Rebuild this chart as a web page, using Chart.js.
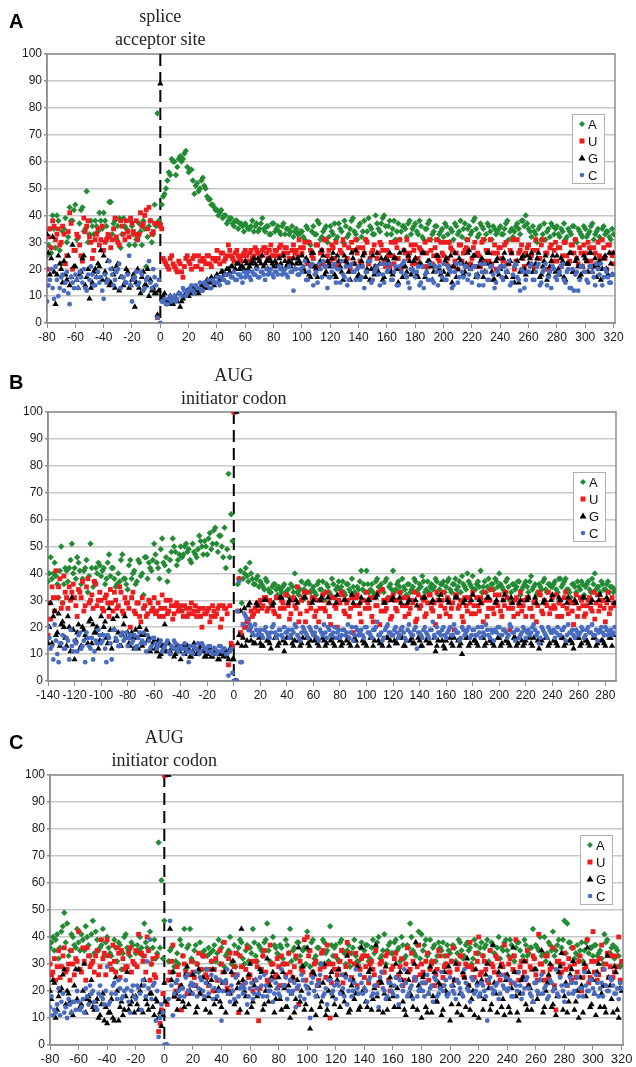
<!DOCTYPE html>
<html>
<head>
<meta charset="utf-8">
<script src="https://cdn.jsdelivr.net/npm/chart.js@4.4.1/dist/chart.umd.min.js"></script>
<style>
  html, body { margin: 0; padding: 0; background: #fff; }
  #wrap { position: relative; width: 636px; height: 1067px; }
  .panel { position: absolute; left: 0; width: 636px; }
</style>
</head>
<body>
<div id="wrap">
  <div class="panel" style="top:0;height:345px"><canvas id="chartA"></canvas></div>
  <div class="panel" style="top:345px;height:355px"><canvas id="chartB"></canvas></div>
  <div class="panel" style="top:700px;height:367px"><canvas id="chartC"></canvas></div>
</div>
<script>
// nucleotide positions; values are kept as even / odd position arrays
function positions(from, to) {
    var out = [];
    for (var p = from; p <= to; p += 2) out.push(p);
    return out;
}
var posA = positions(-80, 320), posAodd = positions(-79, 319);
var posB = positions(-140, 286), posBodd = positions(-139, 287);
var posC = positions(-80, 320), posCodd = positions(-79, 319);

var legendLabels = ['A', 'U', 'G', 'C'];

// ---- panel A : splice acceptor site ----
var aA = [
    25, 35, 40, 28, 38, 22, 35, 30, 43, 38,
    44, 32, 42, 34, 49, 33, 36, 38, 34, 38,
    41, 36, 45, 33, 38, 36, 28, 39, 35, 29,
    36, 29, 32, 34, 38, 21, 36, 30, 44, 78,
    37, 47, 50, 56, 61, 60, 58, 62, 61, 64,
    56, 57, 48, 52, 50, 54, 50, 46, 44, 43,
    42, 41, 39, 40, 38, 39, 36, 38, 37, 36,
    37, 35, 36, 34, 37, 35, 39, 34, 36, 33,
    37, 35, 34, 36, 33, 35, 34, 32, 35, 33,
    34, 31, 35, 29, 36, 33, 37, 32, 35, 30,
    36, 33, 31, 37, 34, 38, 32, 35, 39, 33,
    36, 32, 38, 34, 36, 33, 40, 35, 37, 40,
    33, 38, 35, 31, 37, 34, 36, 32, 38, 35,
    37, 33, 36, 31, 35, 38, 33, 36, 31, 34,
    32, 36, 30, 34, 37, 33, 38, 35, 31, 36,
    34, 39, 32, 37, 35, 33, 36, 31, 35, 34,
    36, 33, 37, 31, 35, 34, 37, 33, 38, 40,
    35, 32, 34, 30, 36, 33, 31, 35, 37, 33,
    36, 32, 34, 31, 35, 33, 36, 30, 34, 32,
    35, 33, 36, 31, 34, 32, 35, 33, 34, 31,
    33
];
var aAodd = [
    29, 26, 35, 40, 27, 34, 39, 32, 38, 42,
    31, 37, 43, 35, 30, 38, 33, 36, 41, 35,
    38, 32, 45, 37, 31, 39, 33, 36, 34, 38,
    33, 31, 37, 29, 35, 32, 38, 33, 36, 38,
    44, 48, 53, 55, 60, 55, 61, 60, 63, 58,
    57, 53, 51, 49, 53, 51, 47, 46, 44, 42,
    40, 42, 40, 37, 39, 37, 38, 35, 37, 34,
    36, 35, 38, 36, 34, 37, 35, 36, 33, 37,
    34, 36, 33, 37, 35, 33, 36, 34, 33, 34,
    32, 36, 30, 34, 33, 38, 31, 34, 36, 32,
    34, 37, 32, 35, 30, 36, 33, 38, 34, 31,
    37, 34, 31, 39, 35, 33, 37, 34, 39, 36,
    36, 33, 38, 34, 31, 36, 35, 37, 33, 36,
    34, 38, 32, 35, 37, 31, 34, 36, 33, 35,
    37, 33, 35, 31, 36, 34, 32, 37, 35, 33,
    38, 35, 33, 36, 31, 37, 34, 36, 33, 35,
    33, 35, 38, 34, 32, 36, 35, 38, 36, 37,
    34, 36, 33, 35, 31, 37, 34, 32, 36, 35,
    33, 35, 37, 32, 34, 36, 31, 35, 33, 36,
    32, 34, 37, 33, 35, 31, 36, 34, 32, 35
];
var aU = [
    20, 35, 38, 31, 35, 30, 33, 25, 41, 20,
    27, 32, 25, 39, 36, 32, 24, 31, 35, 31,
    27, 31, 32, 31, 39, 30, 38, 33, 38, 32,
    37, 33, 31, 41, 37, 42, 43, 33, 37, 2,
    36, 24, 22, 20, 25, 21, 19, 22, 17, 24,
    23, 20, 25, 21, 23, 24, 22, 25, 21, 24,
    27, 22, 26, 24, 29, 25, 23, 27, 24, 25,
    27, 23, 27, 25, 27, 24, 27, 28, 24, 29,
    25, 27, 28, 25, 28, 26, 24, 29, 27, 31,
    26, 30, 22, 27, 24, 29, 21, 27, 31, 25,
    23, 28, 30, 22, 26, 29, 24, 20, 27, 31,
    28, 22, 26, 30, 24, 27, 21, 26, 29, 23,
    27, 21, 25, 30, 24, 20, 27, 31, 26, 22,
    29, 24, 27, 21, 26, 31, 22, 28, 24, 30,
    25, 22, 30, 27, 23, 20, 29, 26, 28, 21,
    24, 30, 26, 21, 31, 27, 23, 22, 29, 26,
    28, 23, 30, 22, 26, 20, 31, 27, 24, 26,
    29, 25, 21, 27, 24, 31, 26, 20, 29, 27,
    23, 28, 25, 30, 22, 29, 26, 24, 28, 21,
    26, 30, 23, 28, 22, 25, 31, 24, 29, 26,
    22
];
var aUodd = [
    32, 28, 36, 33, 29, 36, 22, 34, 37, 27,
    33, 29, 23, 34, 38, 30, 27, 33, 29, 36,
    30, 33, 28, 35, 32, 29, 36, 31, 34, 39,
    34, 38, 33, 36, 40, 35, 38, 34, 37, 37,
    35, 23, 21, 24, 22, 20, 23, 19, 21, 25,
    22, 24, 21, 25, 20, 23, 25, 22, 24, 23,
    24, 26, 23, 25, 27, 24, 26, 25, 23, 26,
    25, 26, 24, 28, 26, 25, 28, 26, 27, 25,
    27, 25, 29, 26, 28, 24, 27, 26, 25, 28,
    28, 23, 30, 25, 21, 29, 26, 22, 31, 27,
    29, 24, 21, 27, 31, 23, 28, 30, 22, 26,
    23, 28, 31, 22, 26, 29, 24, 30, 27, 21,
    25, 30, 22, 28, 31, 21, 26, 24, 29, 27,
    22, 28, 26, 30, 21, 27, 25, 31, 23, 26,
    30, 24, 28, 21, 26, 29, 23, 27, 31, 22,
    28, 21, 25, 30, 23, 27, 31, 26, 20, 28,
    24, 29, 22, 27, 31, 23, 26, 29, 21, 28,
    22, 27, 31, 24, 29, 20, 26, 28, 23, 30,
    28, 21, 30, 25, 23, 29, 31, 22, 26, 29,
    23, 28, 21, 26, 30, 24, 28, 20, 29, 25
];
var aG = [
    33, 18, 32, 7, 25, 20, 23, 16, 14, 29,
    21, 13, 19, 25, 17, 9, 15, 20, 22, 27,
    25, 16, 14, 20, 13, 22, 17, 14, 20, 13,
    16, 6, 20, 11, 19, 14, 10, 12, 11, 3,
    89, 10, 8, 9, 7, 10, 8, 6, 9, 11,
    10, 12, 11, 13, 12, 14, 13, 15, 17, 14,
    18, 16, 19, 18, 20, 21, 19, 22, 20, 21,
    23, 20, 22, 24, 21, 23, 25, 22, 20, 23,
    21, 22, 24, 20, 23, 22, 21, 24, 22, 23,
    25, 19, 23, 17, 26, 20, 22, 27, 18, 23,
    21, 26, 17, 23, 19, 25, 22, 16, 24, 27,
    18, 23, 26, 20, 16, 25, 21, 19, 24, 17,
    22, 26, 18, 24, 15, 21, 27, 19, 23, 20,
    24, 17, 22, 26, 19, 23, 16, 21, 25, 18,
    19, 24, 21, 15, 26, 20, 23, 18, 22, 27,
    21, 25, 18, 23, 17, 22, 26, 19, 16, 24,
    20, 24, 17, 22, 26, 15, 23, 19, 25, 18,
    22, 26, 19, 24, 17, 21, 25, 18, 23, 20,
    25, 18, 23, 16, 22, 26, 19, 24, 17, 21,
    24, 19, 26, 21, 17, 23, 20, 25, 18, 22,
    26
];
var aGodd = [
    26, 24, 19, 18, 22, 15, 18, 25, 17, 21,
    16, 18, 24, 14, 20, 13, 19, 17, 21, 16,
    19, 23, 15, 18, 21, 12, 17, 15, 19, 14,
    18, 15, 13, 17, 14, 20, 16, 13, 11, 12,
    9, 11, 8, 10, 7, 9, 11, 8, 10, 12,
    11, 13, 12, 11, 14, 13, 16, 15, 16, 17,
    17, 19, 18, 20, 19, 21, 20, 22, 21, 20,
    22, 21, 23, 22, 24, 22, 21, 23, 24, 22,
    23, 21, 22, 25, 21, 23, 22, 20, 24, 22,
    20, 24, 18, 26, 21, 17, 23, 25, 19, 22,
    24, 18, 25, 21, 16, 23, 19, 26, 22, 17,
    21, 25, 17, 23, 20, 18, 26, 22, 16, 24,
    23, 19, 24, 20, 26, 17, 21, 25, 18, 23,
    18, 22, 26, 17, 23, 21, 19, 25, 20, 16,
    23, 18, 25, 21, 17, 24, 22, 19, 26, 20,
    25, 17, 21, 24, 19, 26, 22, 16, 23, 18,
    21, 26, 19, 23, 17, 22, 15, 24, 20, 25,
    24, 19, 22, 26, 18, 23, 16, 21, 25, 19,
    20, 24, 17, 22, 26, 19, 23, 21, 18, 25,
    23, 26, 19, 24, 21, 16, 24, 20, 26, 18
];
var aC = [
    8, 16, 13, 21, 10, 17, 12, 19, 7, 15,
    18, 13, 17, 20, 12, 16, 18, 14, 19, 17,
    9, 15, 23, 18, 16, 20, 13, 17, 15, 25,
    8, 17, 14, 19, 12, 16, 23, 13, 17, 2,
    0, 8, 7, 9, 8, 10, 9, 11, 13, 10,
    12, 14, 11, 13, 15, 12, 14, 16, 13, 15,
    17, 14, 16, 18, 15, 17, 19, 16, 18, 15,
    17, 19, 16, 18, 20, 17, 19, 16, 18, 20,
    17, 19, 21, 18, 20, 17, 19, 12, 20, 18,
    19, 23, 16, 21, 14, 19, 22, 17, 21, 13,
    17, 21, 15, 20, 23, 17, 14, 21, 19, 16,
    21, 17, 13, 19, 23, 16, 20, 18, 22, 15,
    19, 22, 16, 21, 14, 19, 23, 17, 13, 20,
    17, 21, 15, 13, 19, 22, 16, 21, 14, 19,
    22, 16, 20, 13, 19, 15, 22, 17, 21, 18,
    15, 21, 17, 22, 14, 19, 16, 21, 13, 19,
    21, 16, 19, 23, 15, 21, 17, 12, 19, 16,
    19, 22, 16, 21, 14, 19, 22, 17, 13, 20,
    16, 19, 22, 15, 20, 13, 12, 19, 16, 21,
    19, 15, 21, 17, 22, 18, 14, 20, 17, 15,
    18
];
var aCodd = [
    14, 20, 9, 16, 13, 18, 15, 11, 17, 13,
    16, 19, 15, 13, 18, 21, 14, 17, 15, 12,
    18, 16, 20, 14, 19, 22, 17, 15, 18, 14,
    16, 19, 15, 18, 13, 17, 15, 20, 14, 16,
    8, 9, 7, 10, 9, 8, 11, 10, 12, 11,
    13, 12, 14, 13, 12, 15, 14, 13, 16, 15,
    15, 17, 16, 15, 18, 17, 16, 18, 17, 19,
    18, 17, 19, 18, 17, 19, 18, 20, 19, 18,
    19, 18, 20, 19, 18, 21, 19, 20, 18, 20,
    21, 16, 19, 22, 18, 15, 20, 23, 21, 17,
    19, 22, 20, 15, 18, 21, 16, 22, 19, 20,
    16, 21, 19, 23, 15, 19, 21, 14, 18, 22,
    20, 16, 19, 14, 21, 22, 18, 15, 20, 19,
    19, 14, 21, 18, 16, 22, 15, 19, 21, 17,
    16, 21, 19, 14, 22, 17, 19, 21, 16, 20,
    21, 18, 14, 19, 22, 16, 21, 18, 15, 20,
    17, 21, 19, 14, 18, 22, 16, 20, 13, 19,
    21, 16, 19, 22, 15, 20, 14, 19, 21, 17,
    18, 21, 16, 19, 13, 20, 18, 12, 21, 19,
    16, 21, 19, 14, 20, 22, 17, 19, 15, 18
];

// ---- panel B : AUG initiator codon ----
var bA = [
    37, 46, 40, 39, 31, 50, 36, 41, 42, 51,
    42, 46, 41, 38, 42, 33, 51, 35, 42, 44,
    39, 42, 38, 47, 42, 38, 36, 37, 47, 38,
    34, 45, 40, 36, 45, 39, 32, 46, 44, 41,
    51, 44, 38, 53, 43, 37, 45, 53, 48, 45,
    50, 47, 51, 49, 44, 48, 46, 54, 50, 52,
    47, 55, 51, 57, 48, 54, 46, 42, 77, 62,
    100, 0, 38, 29, 40, 39, 44, 38, 36, 39,
    37, 35, 38, 34, 33, 36, 34, 35, 33, 36,
    32, 31, 35, 40, 33, 34, 30, 36, 37, 33,
    35, 32, 37, 34, 30, 36, 33, 38, 31, 35,
    34, 37, 32, 36, 33, 35, 31, 34, 41, 36,
    41, 33, 36, 32, 38, 35, 34, 37, 31, 36,
    41, 34, 37, 33, 35, 32, 36, 34, 38, 33,
    36, 39, 33, 37, 35, 34, 38, 32, 36, 37,
    35, 38, 33, 36, 34, 37, 39, 35, 40, 36,
    39, 34, 37, 41, 35, 33, 38, 36, 34, 37,
    40, 35, 33, 38, 30, 36, 34, 37, 32, 35,
    37, 33, 39, 35, 32, 36, 34, 38, 33, 36,
    35, 37, 33, 38, 36, 38, 34, 31, 36, 33,
    35, 37, 32, 36, 34, 38, 40, 35, 33, 36,
    34, 37, 35, 33
];
var bAodd = [
    40, 38, 44, 36, 41, 29, 42, 37, 45, 40,
    38, 44, 36, 41, 45, 39, 42, 37, 40, 43,
    41, 36, 44, 39, 42, 35, 40, 45, 38, 36,
    43, 38, 41, 37, 44, 40, 46, 38, 42, 45,
    47, 42, 49, 44, 46, 41, 48, 50, 43, 47,
    46, 50, 48, 45, 51, 47, 49, 52, 47, 50,
    53, 49, 56, 51, 54, 50, 57, 49, 46, 52,
    0, 36, 41, 38, 42, 37, 40, 36, 38, 35,
    36, 34, 37, 33, 35, 36, 32, 34, 35, 33,
    34, 36, 33, 35, 32, 37, 34, 33, 36, 34,
    33, 36, 34, 37, 33, 35, 32, 36, 34, 37,
    35, 33, 36, 34, 38, 33, 35, 37, 34, 33,
    36, 34, 33, 37, 35, 36, 33, 38, 35, 34,
    33, 36, 35, 38, 34, 36, 33, 35, 37, 34,
    35, 37, 34, 33, 36, 35, 37, 34, 36, 33,
    37, 34, 36, 38, 35, 33, 36, 34, 37, 35,
    34, 36, 35, 33, 37, 35, 34, 36, 38, 35,
    36, 34, 37, 35, 33, 36, 35, 37, 34, 36,
    35, 37, 34, 36, 33, 35, 37, 34, 36, 35,
    36, 34, 38, 35, 37, 34, 33, 36, 35, 37,
    34, 36, 35, 37, 33, 36, 34, 35, 37, 34,
    36, 33, 35, 34
];
var bU = [
    17, 23, 31, 41, 35, 27, 39, 31, 35, 33,
    31, 24, 33, 37, 28, 38, 30, 27, 36, 30,
    30, 26, 32, 24, 29, 33, 27, 35, 26, 31,
    29, 20, 33, 25, 29, 22, 27, 24, 30, 26,
    31, 26, 24, 32, 27, 25, 30, 23, 28, 26,
    28, 24, 27, 25, 29, 26, 24, 27, 20, 25,
    26, 22, 28, 24, 27, 20, 28, 27, 6, 14,
    100, 0, 38, 17, 20, 22, 19, 24, 27, 26,
    30, 28, 31, 27, 29, 26, 31, 24, 30, 27,
    32, 23, 30, 28, 35, 25, 31, 22, 33, 27,
    31, 26, 22, 30, 27, 33, 24, 31, 28, 20,
    29, 32, 25, 30, 27, 18, 31, 28, 22, 30,
    33, 27, 24, 31, 28, 21, 34, 26, 30, 23,
    32, 27, 30, 19, 31, 28, 25, 30, 33, 23,
    27, 31, 24, 29, 32, 26, 21, 30, 28, 33,
    25, 30, 27, 19, 32, 28, 24, 31, 26, 29,
    33, 25, 28, 31, 22, 30, 27, 34, 25, 29,
    32, 24, 28, 31, 19, 27, 30, 25, 33, 28,
    24, 31, 27, 29, 22, 33, 26, 30, 28, 25,
    31, 27, 24, 30, 28, 33, 25, 29, 21, 32,
    27, 30, 24, 28, 31, 26, 23, 32, 28, 30,
    22, 33, 27, 29
];
var bUodd = [
    29, 35, 26, 31, 38, 29, 33, 27, 30, 36,
    28, 34, 31, 26, 35, 29, 32, 37, 28, 33,
    27, 31, 29, 34, 26, 30, 28, 33, 25, 29,
    27, 31, 26, 29, 24, 31, 28, 25, 29, 27,
    25, 29, 27, 24, 30, 26, 28, 25, 29, 27,
    26, 28, 24, 27, 25, 28, 26, 24, 27, 25,
    27, 24, 26, 25, 28, 23, 27, 25, 28, 13,
    100, 26, 18, 21, 20, 23, 26, 25, 28, 29,
    27, 31, 26, 30, 28, 25, 31, 27, 29, 32,
    28, 25, 31, 27, 22, 30, 33, 26, 29, 31,
    24, 30, 27, 32, 26, 29, 21, 31, 27, 30,
    33, 26, 29, 24, 31, 28, 32, 25, 30, 27,
    29, 31, 22, 28, 33, 26, 30, 27, 31, 24,
    30, 26, 33, 28, 24, 31, 27, 29, 22, 32,
    28, 30, 25, 32, 27, 29, 33, 24, 30, 27,
    31, 24, 29, 32, 27, 30, 22, 28, 31, 25,
    28, 31, 26, 29, 33, 24, 30, 27, 32, 28,
    26, 30, 33, 27, 29, 24, 31, 28, 26, 30,
    31, 27, 24, 30, 28, 32, 25, 29, 33, 27,
    28, 32, 29, 24, 31, 27, 30, 26, 29, 24,
    31, 28, 25, 30, 27, 33, 29, 26, 30, 27,
    29, 25, 31, 28
];
var bG = [
    14, 29, 24, 17, 25, 21, 20, 13, 20, 31,
    8, 18, 12, 20, 17, 14, 23, 21, 18, 12,
    24, 20, 16, 27, 12, 19, 24, 13, 17, 24,
    18, 13, 16, 19, 12, 17, 14, 19, 16, 12,
    15, 11, 9, 13, 21, 14, 11, 12, 10, 13,
    8, 13, 11, 12, 9, 14, 10, 12, 13, 9,
    10, 12, 9, 11, 8, 10, 9, 11, 8, 12,
    8, 100, 17, 13, 27, 15, 29, 17, 14, 28,
    14, 13, 30, 15, 12, 29, 16, 14, 31, 11,
    16, 30, 14, 15, 29, 13, 16, 31, 14, 15,
    30, 16, 13, 31, 15, 14, 29, 16, 13, 32,
    15, 14, 30, 16, 13, 29, 15, 17, 31, 14,
    13, 30, 16, 15, 32, 14, 13, 29, 16, 15,
    31, 14, 16, 29, 13, 15, 30, 16, 14, 28,
    15, 13, 31, 16, 14, 30, 11, 15, 32, 13,
    15, 29, 14, 16, 31, 13, 10, 30, 16, 14,
    32, 15, 13, 29, 16, 14, 31, 15, 13, 30,
    16, 14, 32, 15, 13, 29, 16, 14, 30, 13,
    15, 31, 14, 16, 29, 12, 15, 30, 16, 14,
    32, 15, 13, 30, 16, 14, 31, 15, 12, 29,
    16, 14, 31, 15, 13, 30, 16, 14, 32, 15,
    13, 30, 16, 17
];
var bGodd = [
    20, 14, 26, 18, 13, 22, 16, 24, 11, 19,
    15, 21, 13, 19, 16, 22, 14, 18, 20, 15,
    17, 22, 14, 19, 23, 15, 18, 13, 21, 16,
    14, 18, 12, 16, 20, 13, 17, 15, 11, 14,
    12, 15, 10, 13, 11, 14, 12, 9, 13, 11,
    12, 10, 13, 9, 11, 12, 10, 13, 11, 9,
    11, 9, 12, 10, 8, 11, 10, 9, 12, 8,
    0, 14, 26, 16, 13, 28, 15, 14, 29, 16,
    13, 30, 15, 14, 28, 16, 13, 31, 15, 14,
    29, 16, 13, 30, 15, 14, 31, 16, 13, 29,
    15, 14, 30, 16, 13, 31, 15, 14, 29, 16,
    13, 30, 15, 14, 32, 16, 13, 29, 15, 14,
    30, 16, 13, 31, 15, 14, 29, 16, 13, 30,
    15, 14, 31, 16, 13, 29, 15, 14, 30, 16,
    13, 31, 15, 14, 29, 16, 13, 30, 15, 12,
    30, 16, 13, 31, 15, 14, 29, 16, 13, 30,
    15, 14, 30, 16, 13, 31, 15, 14, 29, 16,
    13, 30, 15, 14, 31, 16, 13, 29, 15, 14,
    30, 16, 13, 31, 15, 14, 29, 16, 13, 30,
    15, 14, 31, 16, 13, 29, 15, 14, 30, 16,
    13, 31, 15, 14, 29, 16, 13, 30, 15, 14,
    31, 16, 13, 29
];
var bC = [
    20, 12, 8, 15, 7, 14, 12, 16, 8, 13,
    15, 11, 18, 13, 7, 16, 12, 8, 15, 19,
    14, 17, 7, 16, 8, 19, 15, 13, 18, 16,
    13, 17, 15, 12, 16, 14, 18, 11, 15, 13,
    16, 12, 14, 11, 13, 15, 10, 12, 14, 11,
    13, 10, 12, 7, 11, 13, 12, 10, 14, 12,
    11, 13, 10, 12, 11, 13, 12, 10, 2, 12,
    0, 0, 37, 7, 25, 23, 21, 18, 21, 17,
    19, 16, 20, 17, 18, 21, 16, 19, 17, 20,
    18, 16, 19, 21, 17, 15, 20, 18, 16, 19,
    17, 20, 15, 18, 21, 16, 19, 17, 20, 18,
    16, 19, 17, 21, 18, 15, 20, 17, 19, 16,
    20, 18, 16, 19, 22, 17, 15, 19, 21, 18,
    17, 20, 16, 19, 18, 15, 21, 17, 19, 12,
    18, 16, 20, 17, 19, 22, 16, 18, 17, 20,
    16, 19, 17, 21, 18, 15, 20, 17, 19, 16,
    19, 17, 20, 16, 18, 21, 17, 19, 15, 18,
    20, 17, 19, 16, 21, 18, 15, 19, 17, 20,
    16, 19, 18, 21, 17, 14, 20, 18, 16, 19,
    18, 16, 20, 17, 19, 15, 21, 18, 17, 19,
    17, 20, 16, 19, 18, 21, 17, 15, 19, 18,
    20, 17, 19, 18
];
var bCodd = [
    16, 13, 21, 10, 14, 17, 12, 15, 19, 11,
    14, 17, 12, 15, 18, 13, 16, 11, 14, 17,
    15, 12, 17, 14, 19, 16, 13, 17, 15, 18,
    16, 14, 17, 13, 18, 15, 14, 17, 12, 16,
    14, 13, 15, 12, 14, 11, 13, 15, 12, 13,
    12, 14, 11, 13, 10, 12, 14, 11, 13, 12,
    13, 11, 12, 10, 13, 11, 12, 10, 11, 3,
    0, 26, 7, 21, 24, 19, 20, 17, 19, 18,
    17, 19, 18, 16, 20, 18, 17, 19, 16, 18,
    19, 17, 18, 20, 16, 18, 19, 17, 20, 18,
    18, 16, 19, 17, 18, 20, 17, 18, 16, 19,
    17, 19, 18, 16, 20, 17, 19, 18, 17, 20,
    18, 17, 19, 20, 17, 18, 16, 20, 18, 17,
    19, 18, 17, 20, 16, 19, 18, 17, 20, 18,
    17, 19, 18, 16, 19, 17, 20, 18, 19, 17,
    18, 20, 17, 19, 18, 16, 19, 18, 20, 17,
    19, 17, 18, 20, 17, 19, 16, 18, 19, 20,
    17, 19, 18, 17, 20, 18, 19, 16, 18, 19,
    18, 17, 20, 19, 18, 16, 19, 17, 20, 18,
    19, 18, 17, 19, 20, 17, 18, 19, 16, 18,
    18, 19, 17, 20, 18, 17, 19, 18, 20, 17,
    19, 18, 17, 20
];

// ---- panel C : AUG initiator codon ----
var cA = [
    36, 40, 39, 32, 42, 49, 45, 35, 40, 36,
    38, 41, 35, 40, 33, 46, 42, 35, 37, 33,
    40, 34, 28, 36, 38, 28, 40, 36, 33, 37,
    34, 35, 36, 45, 36, 42, 36, 32, 75, 61,
    46, 0, 35, 27, 31, 30, 37, 43, 36, 43,
    31, 37, 27, 34, 35, 33, 34, 35, 31, 39,
    36, 29, 34, 40, 31, 29, 36, 38, 30, 37,
    36, 43, 33, 37, 35, 38, 45, 31, 40, 36,
    33, 36, 30, 37, 43, 35, 32, 38, 29, 36,
    42, 29, 39, 33, 36, 30, 38, 35, 44, 33,
    37, 31, 39, 34, 35, 29, 36, 33, 31, 38,
    35, 37, 32, 39, 36, 40, 33, 41, 35, 38,
    34, 39, 36, 40, 32, 37, 45, 35, 33, 42,
    41, 37, 33, 39, 36, 31, 38, 35, 33, 37,
    34, 37, 31, 39, 35, 33, 38, 36, 32, 37,
    34, 38, 36, 39, 35, 37, 33, 40, 36, 38,
    35, 39, 33, 36, 38, 31, 39, 33, 36, 43,
    37, 35, 33, 40, 34, 37, 42, 35, 39, 36,
    46, 45, 38, 36, 34, 33, 38, 35, 39, 36,
    33, 37, 34, 32, 41, 39, 34, 37, 36, 33,
    30
];
var cAodd = [
    38, 35, 41, 36, 44, 38, 33, 41, 37, 43,
    35, 39, 44, 37, 41, 34, 39, 36, 43, 38,
    36, 33, 39, 31, 37, 34, 41, 35, 38, 30,
    37, 40, 33, 38, 35, 30, 39, 34, 36, 32,
    0, 31, 36, 29, 34, 39, 33, 28, 37, 32,
    35, 30, 38, 33, 28, 36, 31, 37, 34, 30,
    38, 33, 35, 30, 37, 34, 39, 32, 35, 31,
    34, 38, 31, 36, 33, 39, 35, 30, 37, 34,
    37, 32, 39, 34, 31, 36, 38, 33, 35, 30,
    35, 38, 32, 36, 30, 39, 34, 31, 37, 36,
    32, 38, 35, 30, 37, 34, 39, 31, 36, 33,
    37, 31, 36, 34, 38, 32, 35, 30, 37, 34,
    38, 35, 31, 37, 33, 36, 40, 34, 37, 32,
    35, 39, 34, 31, 37, 33, 36, 38, 30, 35,
    31, 36, 34, 38, 32, 37, 35, 30, 39, 34,
    36, 33, 37, 31, 38, 34, 36, 32, 35, 39,
    33, 37, 31, 38, 35, 33, 37, 34, 36, 32,
    36, 40, 34, 31, 38, 35, 33, 37, 30, 39,
    34, 38, 36, 32, 37, 35, 31, 38, 34, 36,
    37, 33, 35, 30, 38, 34, 36, 32, 35, 29
];
var cU = [
    30, 27, 24, 35, 29, 36, 28, 24, 30, 32,
    42, 27, 31, 36, 29, 31, 33, 26, 39, 34,
    39, 30, 37, 27, 34, 35, 28, 29, 36, 31,
    35, 41, 34, 33, 40, 24, 32, 25, 5, 13,
    100, 15, 27, 37, 20, 26, 13, 30, 19, 26,
    27, 22, 34, 28, 33, 25, 28, 20, 32, 24,
    30, 38, 21, 34, 26, 34, 12, 29, 23, 36,
    26, 20, 31, 9, 28, 35, 24, 37, 30, 26,
    29, 33, 22, 30, 27, 25, 33, 15, 28, 39,
    40, 35, 27, 31, 24, 34, 29, 37, 10, 30,
    33, 28, 35, 26, 38, 31, 24, 34, 29, 32,
    25, 33, 30, 28, 35, 23, 31, 27, 34, 20,
    29, 34, 26, 32, 24, 36, 28, 31, 25, 37,
    30, 23, 34, 28, 31, 26, 35, 22, 29, 33,
    27, 36, 24, 30, 33, 25, 29, 38, 28, 34,
    40, 27, 31, 24, 35, 29, 33, 26, 30, 37,
    25, 32, 28, 39, 24, 31, 27, 35, 29, 33,
    26, 41, 30, 24, 33, 28, 36, 13, 31, 27,
    34, 22, 29, 36, 25, 31, 20, 28, 39, 25,
    42, 31, 26, 37, 22, 34, 29, 25, 33, 40,
    31
];
var cUodd = [
    26, 32, 29, 25, 33, 27, 30, 35, 26, 31,
    28, 36, 24, 33, 30, 27, 35, 29, 32, 26,
    33, 28, 31, 36, 25, 32, 29, 34, 27, 30,
    29, 34, 31, 27, 35, 30, 26, 33, 8, 19,
    100, 24, 31, 18, 29, 22, 33, 27, 20, 31,
    25, 30, 19, 33, 26, 22, 31, 28, 24, 35,
    27, 23, 32, 20, 29, 26, 33, 22, 28, 25,
    31, 24, 29, 21, 33, 27, 23, 30, 25, 32,
    22, 30, 26, 34, 24, 29, 21, 31, 27, 24,
    33, 26, 30, 22, 28, 35, 25, 30, 23, 28,
    26, 31, 23, 29, 34, 25, 30, 22, 28, 33,
    29, 23, 31, 26, 22, 30, 27, 33, 24, 28,
    32, 25, 29, 22, 30, 27, 34, 24, 29, 26,
    27, 31, 24, 30, 22, 28, 33, 25, 30, 27,
    31, 24, 28, 33, 26, 30, 22, 29, 25, 31,
    26, 33, 28, 23, 30, 27, 32, 24, 29, 26,
    30, 23, 33, 27, 29, 25, 31, 22, 28, 32,
    24, 30, 27, 33, 25, 29, 22, 31, 26, 30,
    28, 32, 24, 30, 27, 33, 25, 29, 23, 31,
    27, 24, 32, 28, 30, 25, 33, 27, 29, 24
];
var cG = [
    20, 24, 10, 18, 21, 28, 20, 16, 11, 28,
    28, 15, 30, 17, 16, 14, 16, 10, 15, 9,
    8, 12, 10, 25, 9, 16, 13, 27, 15, 18,
    18, 13, 22, 24, 15, 19, 14, 17, 10, 7,
    23, 100, 43, 27, 19, 17, 22, 14, 29, 20,
    26, 12, 28, 20, 17, 23, 12, 28, 17, 21,
    14, 27, 20, 19, 31, 16, 23, 43, 20, 12,
    30, 16, 24, 19, 27, 15, 32, 22, 27, 17,
    25, 13, 21, 14, 10, 25, 17, 36, 20, 13,
    36, 6, 27, 11, 22, 16, 30, 13, 25, 18,
    11, 28, 20, 16, 33, 13, 24, 19, 13, 36,
    21, 14, 28, 17, 37, 13, 23, 19, 13, 25,
    18, 30, 14, 24, 13, 27, 19, 14, 38, 22,
    10, 26, 12, 29, 18, 16, 23, 11, 27, 19,
    9, 22, 30, 15, 11, 25, 32, 13, 20, 28,
    10, 24, 17, 30, 13, 37, 19, 27, 14, 11,
    26, 12, 36, 18, 9, 24, 31, 13, 21, 16,
    28, 19, 35, 14, 23, 30, 15, 11, 27, 34,
    18, 12, 26, 31, 16, 10, 22, 30, 36, 14,
    24, 11, 30, 19, 14, 33, 22, 12, 27, 10,
    20
];
var cGodd = [
    17, 23, 13, 20, 26, 15, 19, 12, 22, 17,
    14, 20, 12, 18, 24, 13, 17, 11, 19, 14,
    12, 17, 9, 20, 14, 11, 18, 13, 16, 12,
    15, 20, 12, 17, 13, 19, 11, 16, 12, 11,
    16, 100, 24, 18, 13, 21, 16, 26, 15, 19,
    22, 14, 19, 25, 13, 18, 24, 15, 20, 16,
    23, 12, 19, 27, 15, 21, 13, 24, 18, 26,
    14, 22, 18, 28, 13, 20, 16, 25, 12, 21,
    17, 27, 14, 22, 19, 12, 24, 16, 29, 15,
    21, 13, 26, 18, 14, 23, 11, 20, 27, 15,
    24, 14, 19, 26, 12, 22, 17, 29, 14, 20,
    16, 27, 13, 21, 18, 24, 12, 29, 17, 22,
    14, 21, 27, 16, 11, 24, 18, 30, 13, 20,
    25, 14, 19, 12, 27, 16, 22, 13, 20, 29,
    15, 24, 12, 19, 27, 14, 22, 17, 11, 23,
    18, 13, 26, 21, 15, 23, 12, 29, 17, 24,
    14, 21, 27, 12, 19, 25, 15, 22, 13, 28,
    17, 24, 12, 20, 26, 14, 21, 18, 29, 13,
    23, 16, 28, 13, 20, 25, 12, 18, 27, 15,
    19, 27, 14, 22, 12, 25, 17, 29, 13, 21
];
var cC = [
    14, 11, 12, 21, 16, 12, 10, 15, 16, 13,
    16, 14, 12, 18, 22, 20, 14, 19, 18, 15,
    29, 16, 22, 19, 24, 17, 20, 21, 12, 22,
    17, 21, 13, 22, 31, 39, 22, 9, 3, 15,
    0, 0, 46, 11, 23, 20, 21, 18, 26, 22,
    19, 27, 21, 24, 18, 28, 22, 17, 25, 20,
    9, 23, 28, 16, 20, 25, 18, 22, 21, 15,
    21, 17, 24, 19, 22, 26, 18, 20, 16, 23,
    19, 28, 22, 17, 24, 20, 14, 22, 26, 17,
    21, 10, 25, 18, 23, 30, 19, 15, 24, 20,
    17, 22, 26, 18, 15, 24, 20, 28, 19, 23,
    21, 16, 25, 19, 22, 14, 27, 20, 18, 23,
    19, 25, 15, 22, 28, 18, 21, 17, 24, 20,
    23, 18, 26, 21, 16, 24, 19, 27, 22, 18,
    25, 20, 17, 23, 19, 28, 21, 16, 24, 20,
    18, 23, 20, 9, 25, 19, 22, 17, 26, 21,
    20, 24, 18, 22, 27, 17, 21, 25, 19, 16,
    23, 19, 26, 21, 17, 24, 20, 28, 18, 22,
    16, 22, 25, 19, 23, 18, 21, 27, 20, 24,
    21, 26, 18, 23, 28, 20, 25, 22, 19, 17,
    21
];
var cCodd = [
    18, 13, 15, 11, 19, 14, 17, 12, 16, 20,
    13, 17, 21, 15, 19, 16, 13, 22, 17, 20,
    15, 19, 23, 17, 21, 18, 24, 16, 20, 18,
    22, 19, 24, 18, 21, 17, 23, 20, 10, 12,
    0, 17, 22, 19, 24, 18, 21, 25, 20, 23,
    22, 18, 25, 20, 23, 19, 26, 21, 18, 24,
    20, 24, 19, 22, 17, 26, 21, 19, 23, 18,
    23, 19, 21, 25, 18, 22, 20, 24, 19, 21,
    18, 22, 25, 20, 19, 23, 21, 18, 24, 22,
    19, 23, 20, 22, 26, 18, 21, 24, 19, 22,
    23, 19, 21, 25, 20, 18, 23, 21, 26, 19,
    20, 24, 18, 22, 19, 25, 21, 17, 23, 20,
    22, 18, 24, 20, 23, 19, 22, 25, 18, 21,
    20, 23, 19, 22, 25, 18, 21, 20, 24, 19,
    22, 19, 24, 21, 18, 23, 20, 25, 19, 22,
    19, 22, 18, 24, 21, 20, 23, 19, 22, 25,
    21, 18, 23, 20, 22, 19, 24, 21, 18, 23,
    20, 24, 19, 22, 18, 23, 21, 19, 25, 20,
    22, 19, 23, 20, 25, 21, 18, 22, 20, 24,
    19, 23, 21, 18, 22, 20, 24, 19, 21, 23
];

var colors = ['rgb(34,139,52)', 'rgb(238,28,28)', '#000000', 'rgb(72,108,192)'];
var styles = ['rectRot', 'rect', 'triangle', 'circle'];
var radii  = [3.2, 3.4, 3.6, 2.4];

function toPoints(pos, vals) {
    return vals.map(function(v, i) { return { x: pos[i], y: v }; });
}

// frame, dashed site line, titles and the boxed legend
var decorPlugin = {
    id: 'decor',
    beforeDatasetsDraw: function(chart) {
        var ctx = chart.ctx, a = chart.chartArea;
        var x0 = chart.scales.x.getPixelForValue(0);
        ctx.save();
        ctx.strokeStyle = '#8e8e8e';
        ctx.lineWidth = 1.5;
        ctx.strokeRect(a.left, a.top, a.right - a.left, a.bottom - a.top);
        ctx.setLineDash([12, 6]);
        ctx.strokeStyle = '#000';
        ctx.lineWidth = 2;
        ctx.beginPath();
        ctx.moveTo(x0, a.top);
        ctx.lineTo(x0, a.bottom);
        ctx.stroke();
        ctx.restore();
    },
    afterDraw: function(chart, args, opts) {
        var ctx = chart.ctx, a = chart.chartArea;
        var x0 = chart.scales.x.getPixelForValue(0);
        ctx.save();
        ctx.fillStyle = '#000';
        ctx.font = 'bold 20px "Liberation Sans", Arial, sans-serif';
        ctx.textAlign = 'left';
        ctx.textBaseline = 'middle';
        ctx.fillText(opts.letter, 9, opts.letterY);
        ctx.fillStyle = '#222';
        ctx.font = '18px "Liberation Serif", "Times New Roman", serif';
        ctx.textAlign = 'center';
        ctx.fillText(opts.title[0], x0, opts.titleY[0]);
        ctx.fillText(opts.title[1], x0, opts.titleY[1]);
        var bx = a.right - 43, by = a.top + 60, bw = 32, bh = 69;
        ctx.fillStyle = '#fff';
        ctx.fillRect(bx, by, bw, bh);
        ctx.strokeStyle = '#b0b0b0';
        ctx.lineWidth = 1;
        ctx.strokeRect(bx + 0.5, by + 0.5, bw, bh);
        ctx.font = '13px "Liberation Sans", Arial, sans-serif';
        ctx.textAlign = 'left';
        for (var i = 0; i < legendLabels.length; i++) {
            var my = by + 10 + i * 17, mx = bx + 10;
            ctx.fillStyle = colors[i];
            ctx.beginPath();
            if (i === 0) {
                ctx.moveTo(mx, my - 3); ctx.lineTo(mx + 3, my); ctx.lineTo(mx, my + 3); ctx.lineTo(mx - 3, my);
            } else if (i === 1) {
                ctx.rect(mx - 2.5, my - 2.5, 5, 5);
            } else if (i === 2) {
                ctx.moveTo(mx, my - 3.5); ctx.lineTo(mx + 3.5, my + 2.5); ctx.lineTo(mx - 3.5, my + 2.5);
            } else {
                ctx.arc(mx, my, 2.3, 0, Math.PI * 2);
            }
            ctx.closePath();
            ctx.fill();
            ctx.fillStyle = '#111';
            ctx.fillText(legendLabels[i], bx + 16, my + 1);
        }
        ctx.restore();
    }
};

function makePanel(id, pos, posOdd, series, seriesOdd, g) {
    var datasets = series.map(function(vals, i) {
        return {
            label: legendLabels[i],
            data: toPoints(pos, vals).concat(toPoints(posOdd, seriesOdd[i])),
            pointStyle: styles[i],
            pointRadius: radii[i],
            pointHoverRadius: radii[i],
            backgroundColor: colors[i],
            borderWidth: 0,
            showLine: false,
            order: 4 - i
        };
    });
    return new Chart(document.getElementById(id), {
        type: 'scatter',
        data: { datasets: datasets },
        plugins: [decorPlugin],
        options: {
            responsive: true,
            maintainAspectRatio: false,
            animation: false,
            events: [],
            layout: { padding: { top: g.top, right: 636 - g.right, left: 0, bottom: 0 } },
            scales: {
                x: {
                    type: 'linear',
                    min: g.xMin,
                    max: g.xMax,
                    afterFit: function(s) { s.height = g.h - g.bottom; },
                    grid: { drawOnChartArea: false, drawTicks: true, tickLength: 5, tickColor: '#8e8e8e' },
                    border: { color: '#8e8e8e', width: 1.5 },
                    ticks: {
                        stepSize: 20,
                        includeBounds: false,
                        autoSkip: false,
                        maxRotation: 0,
                        padding: 2,
                        color: '#1a1a1a',
                        font: { family: '"Liberation Sans", Arial, sans-serif', size: g.xFont }
                    }
                },
                y: {
                    min: 0,
                    max: 100,
                    afterFit: function(s) { s.width = g.left; },
                    grid: { color: '#c8c8c8', lineWidth: 1.5, tickLength: 3, tickColor: '#8e8e8e' },
                    border: { color: '#8e8e8e', width: 1.5 },
                    ticks: {
                        stepSize: 10,
                        padding: 2,
                        color: '#1a1a1a',
                        font: { family: '"Liberation Sans", Arial, sans-serif', size: 12 }
                    }
                }
            },
            plugins: {
                legend: { display: false },
                tooltip: { enabled: false },
                decor: g.decor
            }
        }
    });
}

makePanel('chartA', posA, posAodd, [aA, aU, aG, aC], [aAodd, aUodd, aGodd, aCodd], {
    h: 345, top: 54, bottom: 323, left: 47, right: 615, xMin: -80, xMax: 321, xFont: 12,
    decor: { letter: 'A', letterY: 22, title: ['splice', 'acceptor site'], titleY: [17, 40] }
});
makePanel('chartB', posB, posBodd, [bA, bU, bG, bC], [bAodd, bUodd, bGodd, bCodd], {
    h: 355, top: 67, bottom: 336, left: 48, right: 616, xMin: -140, xMax: 288, xFont: 12,
    decor: { letter: 'B', letterY: 38, title: ['AUG', 'initiator codon'], titleY: [31, 54] }
});
makePanel('chartC', posC, posCodd, [cA, cU, cG, cC], [cAodd, cUodd, cGodd, cCodd], {
    h: 367, top: 75, bottom: 345, left: 50, right: 623, xMin: -80, xMax: 321, xFont: 13,
    decor: { letter: 'C', letterY: 43, title: ['AUG', 'initiator codon'], titleY: [38, 61] }
});
</script>
</body>
</html>
